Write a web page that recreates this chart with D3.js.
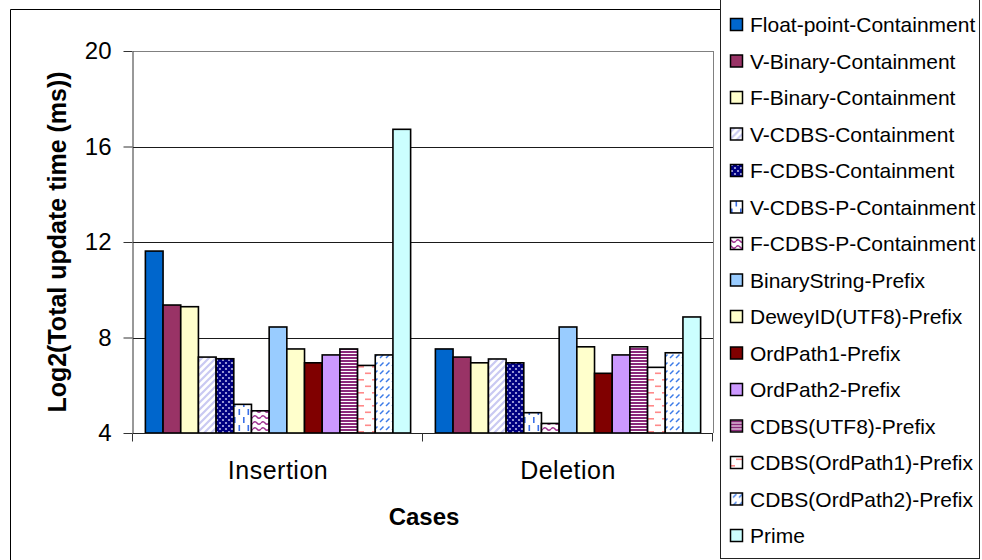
<!DOCTYPE html>
<html>
<head>
<meta charset="utf-8">
<script src="https://cdn.jsdelivr.net/npm/d3@7"></script>
<style>
  html, body { margin: 0; padding: 0; background: #fff; }
  svg { display: block; font-family: "Liberation Sans", Arial, sans-serif; }
</style>
</head>
<body>
<svg id="chart" width="982" height="560"></svg>
<script>
// Update cost per labelling scheme, log2 of total time in ms
const categories = ["Insertion", "Deletion"];
const seriesNames = [
  "Float-point-Containment", "V-Binary-Containment", "F-Binary-Containment",
  "V-CDBS-Containment", "F-CDBS-Containment", "V-CDBS-P-Containment",
  "F-CDBS-P-Containment", "BinaryString-Prefix", "DeweyID(UTF8)-Prefix",
  "OrdPath1-Prefix", "OrdPath2-Prefix", "CDBS(UTF8)-Prefix",
  "CDBS(OrdPath1)-Prefix", "CDBS(OrdPath2)-Prefix", "Prime"
];
const insertionValues = [11.62, 9.36, 9.29, 7.18, 7.11, 5.20, 4.93, 8.44, 7.52, 6.94, 7.27, 7.52, 6.83, 7.27, 16.72];
const deletionValues  = [7.52, 7.18, 6.94, 7.10, 6.94, 4.85, 4.40, 8.44, 7.61, 6.50, 7.27, 7.61, 6.75, 7.36, 8.86];
const yTicks = [4, 8, 12, 16, 20];
const yTitle = "Log2(Total update time (ms))";
const xTitle = "Cases";

const valuesByCategory = { "Insertion": insertionValues, "Deletion": deletionValues };

const svg = d3.select("#chart");
const defs = svg.append("defs");

// Fill patterns
function pat(id, w, h, bg, draw) {
  const p = defs.append("pattern").attr("id", id)
    .attr("patternUnits", "userSpaceOnUse").attr("width", w).attr("height", h);
  p.append("rect").attr("width", w).attr("height", h).attr("fill", bg);
  draw(p);
}
pat("pVCDBS", 7, 7, "#fff", p => {
  p.append("path").attr("d", "M-1,8 L8,-1 M-1,1 L1,-1 M6,8 L8,6")
    .attr("stroke", "#c9c9f2").attr("stroke-width", 2.2);
});
pat("pFCDBS", 6, 6, "#000080", p => {
  [[0,0],[6,0],[0,6],[6,6],[3,3]].forEach(([x, y]) =>
    p.append("circle").attr("cx", x).attr("cy", y).attr("r", 1.1).attr("fill", "#b8b8e8"));
});
pat("pVCDBSP", 9, 16, "#fff", p => {
  p.append("rect").attr("x", 2).attr("y", 1).attr("width", 1.6).attr("height", 6).attr("fill", "#3a6fe8");
  p.append("rect").attr("x", 6.5).attr("y", 9).attr("width", 1.6).attr("height", 6).attr("fill", "#3a6fe8");
});
pat("pFCDBSP", 8, 6, "#fff", p => {
  p.append("path").attr("d", "M0,3 Q2,0.5 4,3 T8,3").attr("fill", "none")
    .attr("stroke", "#a03090").attr("stroke-width", 1.4);
});
pat("pUTF8", 4, 3, "#fff", p => {
  p.append("rect").attr("width", 4).attr("height", 2).attr("fill", "#8a2a7a");
});
pat("pOP1", 14, 13, "#fff", p => {
  p.append("rect").attr("x", 1).attr("y", 2).attr("width", 6).attr("height", 1.6).attr("fill", "#ff8a8a");
  p.append("rect").attr("x", 8).attr("y", 8.5).attr("width", 6).attr("height", 1.6).attr("fill", "#ff8a8a");
});
pat("pOP2", 6, 8, "#fff", p => {
  p.append("path").attr("d", "M1,6 L4.5,2.5").attr("stroke", "#3a7ae8").attr("stroke-width", 1.5);
});

const fills = [
  "#0066cc", "#993366", "#ffffcc", "url(#pVCDBS)", "url(#pFCDBS)",
  "url(#pVCDBSP)", "url(#pFCDBSP)", "#99ccff", "#ffffcc", "#800000",
  "#cc99ff", "url(#pUTF8)", "url(#pOP1)", "url(#pOP2)", "#ccffff"
];

// Plot region
const plot = { left: 133, right: 713, top: 51, bottom: 433 };

// Outer chart frame
svg.append("path")
  .attr("d", "M10.5,570 L10.5,9.5 L720,9.5")
  .attr("fill", "none").attr("stroke", "#000").attr("stroke-width", 1);

const y = d3.scaleLinear().domain([4, 20]).range([plot.bottom, plot.top]);
const x0 = d3.scaleBand().domain(categories).range([plot.left, plot.right]).padding(0);
const x1 = d3.scaleBand().domain(seriesNames).range([0, x0.bandwidth()])
  .paddingInner(0).paddingOuter(0.7);

// Gridlines
svg.append("g")
  .selectAll("line").data(yTicks.slice(1)).join("line")
  .attr("x1", plot.left).attr("x2", plot.right)
  .attr("y1", d => Math.round(y(d)) + 0.5).attr("y2", d => Math.round(y(d)) + 0.5)
  .attr("stroke", d => d === 20 ? "#808080" : "#1a1a1a").attr("stroke-width", 1);

// Plot area right border
svg.append("line")
  .attr("x1", plot.right + 0.5).attr("x2", plot.right + 0.5)
  .attr("y1", plot.top).attr("y2", plot.bottom)
  .attr("stroke", "#808080");

// Bars
const groups = svg.append("g").selectAll("g").data(categories).join("g")
  .attr("transform", c => `translate(${x0(c)},0)`);
groups.selectAll("rect")
  .data(c => seriesNames.map((s, i) => ({ s, i, v: valuesByCategory[c][i] })))
  .join("rect")
  .attr("x", d => x1(d.s))
  .attr("width", x1.bandwidth())
  .attr("y", d => y(d.v))
  .attr("height", d => y(4) - y(d.v))
  .attr("fill", d => fills[d.i])
  .attr("stroke", "#000").attr("stroke-width", 1.6);

// Y axis
const yAxis = svg.append("g")
  .attr("transform", `translate(${plot.left - 0.5},0)`)
  .call(d3.axisLeft(y).tickValues(yTicks).tickSize(9).tickSizeOuter(0).tickPadding(12));
yAxis.select(".domain").attr("stroke", "#333");
yAxis.selectAll(".tick line").attr("stroke", "#333");
yAxis.selectAll(".tick text")
  .attr("font-family", "Liberation Sans, Arial, sans-serif")
  .attr("font-size", 24).attr("fill", "#000");

// X axis: ticks sit at the category boundaries
const xAxis = svg.append("g")
  .attr("transform", `translate(0,${plot.bottom + 0.5})`);
xAxis.append("line")
  .attr("x1", plot.left).attr("x2", plot.right)
  .attr("stroke", "#222");
xAxis.selectAll("line.tick")
  .data([plot.left, ...categories.map(c => x0(c) + x0.bandwidth())])
  .join("line").attr("class", "tick")
  .attr("x1", d => Math.round(d) - 0.5).attr("x2", d => Math.round(d) - 0.5)
  .attr("y1", 0).attr("y2", 8).attr("stroke", "#333");
xAxis.selectAll("text").data(categories).join("text")
  .attr("x", c => x0(c) + x0.bandwidth() / 2)
  .attr("y", 45)
  .attr("text-anchor", "middle")
  .attr("font-size", 25)
  .attr("letter-spacing", 0.5)
  .text(c => c);

// Axis titles
svg.append("text")
  .attr("transform", `translate(66,${(plot.top + plot.bottom) / 2}) rotate(-90)`)
  .attr("text-anchor", "middle")
  .attr("font-size", 25).attr("font-weight", "bold")
  .text(yTitle);
svg.append("text")
  .attr("x", (plot.left + plot.right) / 2 + 1)
  .attr("y", 525)
  .attr("text-anchor", "middle")
  .attr("font-size", 24).attr("font-weight", "bold")
  .text(xTitle);

// Legend
const legend = svg.append("g");
legend.append("rect")
  .attr("x", 720.5).attr("y", -2).attr("width", 259).attr("height", 560.5)
  .attr("fill", "#fff").attr("stroke", "#222").attr("stroke-width", 1);
const items = legend.selectAll("g.item").data(seriesNames).join("g")
  .attr("class", "item")
  .attr("transform", (d, i) => `translate(0,${25 + i * 36.5})`);
items.append("rect")
  .attr("x", 730.5).attr("y", -6.5).attr("width", 12).attr("height", 12)
  .attr("fill", (d, i) => fills[i])
  .attr("stroke", "#000").attr("stroke-width", 1.5);
items.append("text")
  .attr("x", 750).attr("y", 0).attr("dy", "0.35em")
  .attr("font-size", 21)
  .text(d => d);
</script>
</body>
</html>
